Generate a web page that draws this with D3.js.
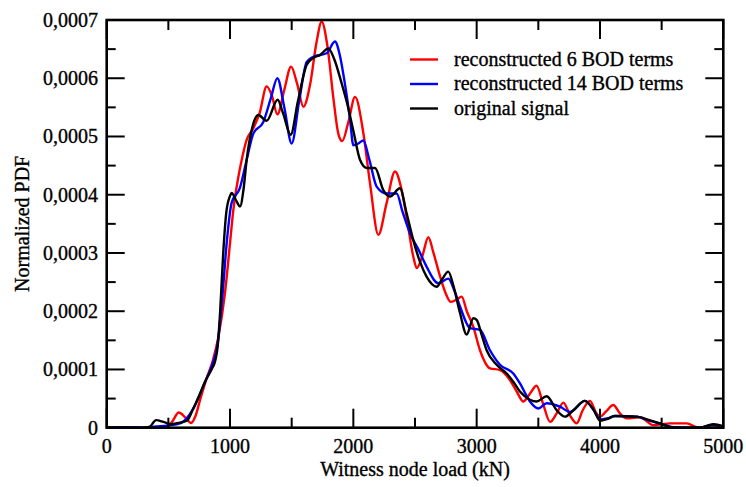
<!DOCTYPE html>
<html>
<head>
<meta charset="utf-8">
<script src="https://cdn.jsdelivr.net/npm/d3@7"></script>
<style>
  html, body { margin: 0; padding: 0; background: #fff; }
  svg { display: block; }
  text { font-family: "Liberation Serif", "Times New Roman", serif; fill: #000; stroke: #000; stroke-width: 0.35px; }
</style>
</head>
<body>
<svg id="chart" width="746" height="487"></svg>
<script>
// ---- data (y values in units of 1e-4) ----
const seriesNames = ["reconstructed 6 BOD terms", "reconstructed 14 BOD terms", "original signal"];
const seriesColors = ["#ff0000", "#0000ff", "#000000"];

const redX = [0,200,400,480,530,584,640,684,720,760,811,860,905,959,1000,1027,1068,1095,1135,1189,1240,1297,1340,1384,1440,1495,1545,1595,1650,1700,1743,1790,1838,1878,1910,1960,2014,2081,2135,2203,2270,2338,2390,2432,2486,2514,2560,2608,2650,2703,2750,2790,2840,2878,2920,2973,3027,3108,3189,3270,3330,3378,3430,3486,3540,3595,3650,3703,3760,3811,3860,3919,3970,4000,4050,4108,4160,4216,4324,4432,4500,4568,4703,4784,4850,5000];
const redY = [0,0,0,0.01,0.1,0.26,0.17,0.08,0.2,0.5,0.85,1.15,1.55,2.31,3.17,3.74,4.31,4.6,4.94,5.14,5.4,5.86,5.7,5.38,5.8,6.2,5.9,5.51,5.9,6.6,6.97,6.55,5.66,5.05,4.92,5.25,5.68,5.06,4.2,3.31,3.86,4.4,4.1,3.62,2.94,2.74,2.95,3.27,3.0,2.6,2.3,2.16,2.2,2.25,2.0,1.73,1.33,1.02,0.99,0.82,0.6,0.45,0.58,0.72,0.4,0.1,0.25,0.43,0.2,0.075,0.3,0.46,0.25,0.19,0.28,0.39,0.25,0.16,0.18,0.045,0.06,0.075,0.075,0.01,0,0.01];

const blueX = [0,100,200,300,400,500,600,700,800,850,900,940,973,1013,1081,1135,1189,1270,1330,1384,1440,1500,1560,1622,1676,1784,1851,1890,1932,1973,2000,2040,2081,2130,2189,2270,2351,2400,2459,2530,2595,2689,2770,2820,2865,2946,3027,3108,3189,3297,3351,3432,3500,3568,3676,3757,3878,3950,4000,4060,4122,4297,4400,4486,4595,4811,4919,5000];
const blueY = [0,0.01,0.01,0,0.02,0.04,0.08,0.32,0.8,1.05,1.45,2.3,3.17,3.86,4.12,4.6,5.05,5.25,5.65,6.0,5.5,4.88,5.6,6.28,6.37,6.43,6.63,6.4,5.9,5.3,4.85,4.88,4.93,4.6,4.14,4.02,4.02,3.7,3.34,3.05,2.76,2.48,2.56,2.35,2.08,1.71,1.68,1.33,1.08,0.93,0.76,0.45,0.33,0.42,0.36,0.27,0.46,0.3,0.14,0.16,0.2,0.19,0.12,0.07,0.01,0,0.05,0.02];

const blackX = [0,300,350,400,460,520,560,650,700,750,800,850,880,900,920,945,970,1000,1013,1050,1081,1110,1135,1180,1229,1297,1386,1430,1492,1550,1622,1675,1730,1797,1850,1900,1946,2000,2054,2108,2176,2243,2297,2378,2430,2486,2540,2595,2676,2720,2770,2810,2865,2919,2973,3000,3040,3081,3162,3243,3300,3351,3432,3486,3568,3649,3716,3784,3878,3950,4000,4060,4122,4297,4400,4486,4595,4811,4919,5000];
const blackY = [0,0,0.02,0.13,0.1,0.06,0.075,0.12,0.32,0.55,0.8,1.0,1.15,1.4,2.0,3.0,3.7,3.98,4.03,3.9,3.8,4.1,4.6,5.15,5.37,5.27,5.63,5.4,5.03,5.6,6.23,6.35,6.4,6.51,6.3,5.95,5.6,5.1,4.6,4.46,4.46,4.08,3.97,4.11,3.7,3.22,2.85,2.59,2.42,2.55,2.68,2.45,1.97,1.6,1.88,1.85,1.6,1.33,1.08,0.93,0.78,0.62,0.48,0.45,0.54,0.3,0.19,0.3,0.46,0.3,0.12,0.15,0.2,0.19,0.13,0.075,0,0,0.06,0.02];

const xTicks = [0,1000,2000,3000,4000,5000];
const xTickLabels = ["0","1000","2000","3000","4000","5000"];
const yTicks = [0,1,2,3,4,5,6,7];
const yTickLabels = ["0","0,0001","0,0002","0,0003","0,0004","0,0005","0,0006","0,0007"];
const xTitle = "Witness node load (kN)";
const yTitle = "Normalized PDF";

// ---- layout ----
const svg = d3.select("#chart");
const L = 106.7, R = 723.3, T = 20, B = 427.7;
const x = d3.scaleLinear().domain([0,5000]).range([L,R]);
const y = d3.scaleLinear().domain([0,7]).range([B,T]);

const clipId = "plotclip";
svg.append("clipPath").attr("id", clipId).append("rect")
  .attr("x", L).attr("y", T).attr("width", R-L).attr("height", B-T);

const line = d3.line().x(d => x(d[0])).y(d => y(d[1])).curve(d3.curveMonotoneX);
const all = [[redX, redY], [blueX, blueY], [blackX, blackY]];
const g = svg.append("g").attr("clip-path", `url(#${clipId})`);
all.forEach((s, i) => {
  const pts = s[0].map((v, k) => [v, s[1][k]]);
  g.append("path").datum(pts).attr("d", line)
    .attr("fill", "none").attr("stroke", seriesColors[i]).attr("stroke-width", 2.4)
    .attr("stroke-linejoin", "round");
});

// ---- axes (ticks inside on all four sides) ----
const xMinor = d3.range(500, 5000, 1000);
const yMinor = d3.range(0.5, 7, 1);
const ax = svg.append("g").attr("stroke", "#000").attr("stroke-width", 2);
xTicks.concat(xMinor).forEach(v => {
  const len = xTicks.includes(v) ? 19 : 10;
  ax.append("line").attr("x1", x(v)).attr("x2", x(v)).attr("y1", B).attr("y2", B - len);
  ax.append("line").attr("x1", x(v)).attr("x2", x(v)).attr("y1", T).attr("y2", T + len);
});
yTicks.concat(yMinor).forEach(v => {
  const len = yTicks.includes(v) ? 18 : 9;
  ax.append("line").attr("y1", y(v)).attr("y2", y(v)).attr("x1", L).attr("x2", L + len);
  ax.append("line").attr("y1", y(v)).attr("y2", y(v)).attr("x1", R).attr("x2", R - len);
});
svg.append("rect").attr("x", L).attr("y", T).attr("width", R-L).attr("height", B-T)
  .attr("fill", "none").attr("stroke", "#000").attr("stroke-width", 2.6);

// tick labels
svg.append("g").selectAll("text").data(xTicks).join("text")
  .attr("x", d => x(d)).attr("y", 453).attr("text-anchor", "middle")
  .attr("font-size", 20).text((d, i) => xTickLabels[i]);
svg.append("g").selectAll("text").data(yTicks).join("text")
  .attr("x", 98).attr("y", d => y(d) + 7).attr("text-anchor", "end")
  .attr("font-size", 20).text((d, i) => yTickLabels[i]);

// titles
svg.append("text").attr("x", (L+R)/2).attr("y", 476).attr("text-anchor", "middle")
  .attr("font-size", 20).text(xTitle);
svg.append("text").attr("transform", `translate(29,${(T+B)/2}) rotate(-90)`)
  .attr("text-anchor", "middle").attr("font-size", 20).text(yTitle);

// legend
const lg = svg.append("g");
seriesNames.forEach((n, i) => {
  const ly = 59.5 + i * 24.5;
  lg.append("line").attr("x1", 410).attr("x2", 438).attr("y1", ly).attr("y2", ly)
    .attr("stroke", seriesColors[i]).attr("stroke-width", 2.4);
  lg.append("text").attr("x", 454).attr("y", ly + 6).attr("font-size", 20).text(n);
});
</script>
</body>
</html>
